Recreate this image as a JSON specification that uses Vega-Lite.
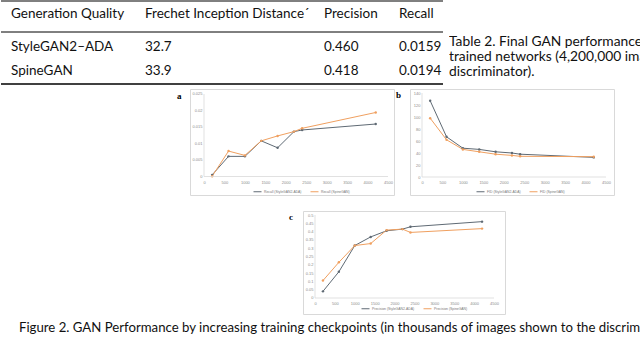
{
  "$schema": "https://vega.github.io/schema/vega-lite/v6.json",
  "usermeta": {"embedOptions": {"actions": false}},
  "padding": 0,
  "background": "white",
  "config": {"view": {"stroke": null}, "font": "Lato"},
  "datasets": {
    "table": [
      {"r": 0, "c": 0, "t": "Generation Quality"},
      {"r": 0, "c": 1, "t": "Frechet Inception Distance´"},
      {"r": 0, "c": 2, "t": "Precision"},
      {"r": 0, "c": 3, "t": "Recall"},
      {"r": 1, "c": 0, "t": "StyleGAN2–ADA"},
      {"r": 1, "c": 1, "t": "32.7"},
      {"r": 1, "c": 2, "t": "0.460"},
      {"r": 1, "c": 3, "t": "0.0159"},
      {"r": 2, "c": 0, "t": "SpineGAN"},
      {"r": 2, "c": 1, "t": "33.9"},
      {"r": 2, "c": 2, "t": "0.418"},
      {"r": 2, "c": 3, "t": "0.0194"}
    ],
    "tcap": [
      {"line": 0, "t": "Table 2. Final GAN performance of"},
      {"line": 1, "t": "trained networks (4,200,000 images shown to the"},
      {"line": 2, "t": "discriminator)."}
    ],
    "perf": [
      {"metric": "Recall", "model": "StyleGAN2-ADA", "kimg": 200, "value": 0.0005},
      {"metric": "Recall", "model": "StyleGAN2-ADA", "kimg": 600, "value": 0.0061},
      {"metric": "Recall", "model": "StyleGAN2-ADA", "kimg": 1000, "value": 0.0061},
      {"metric": "Recall", "model": "StyleGAN2-ADA", "kimg": 1400, "value": 0.0108},
      {"metric": "Recall", "model": "StyleGAN2-ADA", "kimg": 1800, "value": 0.0087},
      {"metric": "Recall", "model": "StyleGAN2-ADA", "kimg": 2200, "value": 0.0136},
      {"metric": "Recall", "model": "StyleGAN2-ADA", "kimg": 2400, "value": 0.0141},
      {"metric": "Recall", "model": "StyleGAN2-ADA", "kimg": 4200, "value": 0.0159},
      {"metric": "Recall", "model": "SpineGAN", "kimg": 200, "value": 0.0001},
      {"metric": "Recall", "model": "SpineGAN", "kimg": 600, "value": 0.0077},
      {"metric": "Recall", "model": "SpineGAN", "kimg": 1000, "value": 0.0064},
      {"metric": "Recall", "model": "SpineGAN", "kimg": 1400, "value": 0.0108},
      {"metric": "Recall", "model": "SpineGAN", "kimg": 1800, "value": 0.0123},
      {"metric": "Recall", "model": "SpineGAN", "kimg": 2200, "value": 0.0136},
      {"metric": "Recall", "model": "SpineGAN", "kimg": 2400, "value": 0.0146},
      {"metric": "Recall", "model": "SpineGAN", "kimg": 4200, "value": 0.0194},
      {"metric": "FID", "model": "StyleGAN2-ADA", "kimg": 200, "value": 127},
      {"metric": "FID", "model": "StyleGAN2-ADA", "kimg": 600, "value": 67},
      {"metric": "FID", "model": "StyleGAN2-ADA", "kimg": 1000, "value": 48},
      {"metric": "FID", "model": "StyleGAN2-ADA", "kimg": 1400, "value": 46},
      {"metric": "FID", "model": "StyleGAN2-ADA", "kimg": 1800, "value": 42},
      {"metric": "FID", "model": "StyleGAN2-ADA", "kimg": 2200, "value": 40},
      {"metric": "FID", "model": "StyleGAN2-ADA", "kimg": 2400, "value": 38},
      {"metric": "FID", "model": "StyleGAN2-ADA", "kimg": 4200, "value": 32.7},
      {"metric": "FID", "model": "SpineGAN", "kimg": 200, "value": 98},
      {"metric": "FID", "model": "SpineGAN", "kimg": 600, "value": 62},
      {"metric": "FID", "model": "SpineGAN", "kimg": 1000, "value": 46},
      {"metric": "FID", "model": "SpineGAN", "kimg": 1400, "value": 42},
      {"metric": "FID", "model": "SpineGAN", "kimg": 1800, "value": 38},
      {"metric": "FID", "model": "SpineGAN", "kimg": 2200, "value": 36},
      {"metric": "FID", "model": "SpineGAN", "kimg": 2400, "value": 34.5},
      {"metric": "FID", "model": "SpineGAN", "kimg": 4200, "value": 33.9},
      {"metric": "Precision", "model": "StyleGAN2-ADA", "kimg": 200, "value": 0.04},
      {"metric": "Precision", "model": "StyleGAN2-ADA", "kimg": 600, "value": 0.158},
      {"metric": "Precision", "model": "StyleGAN2-ADA", "kimg": 1000, "value": 0.316},
      {"metric": "Precision", "model": "StyleGAN2-ADA", "kimg": 1400, "value": 0.368},
      {"metric": "Precision", "model": "StyleGAN2-ADA", "kimg": 1800, "value": 0.405},
      {"metric": "Precision", "model": "StyleGAN2-ADA", "kimg": 2200, "value": 0.415},
      {"metric": "Precision", "model": "StyleGAN2-ADA", "kimg": 2400, "value": 0.429},
      {"metric": "Precision", "model": "StyleGAN2-ADA", "kimg": 4200, "value": 0.46},
      {"metric": "Precision", "model": "SpineGAN", "kimg": 200, "value": 0.105},
      {"metric": "Precision", "model": "SpineGAN", "kimg": 600, "value": 0.215},
      {"metric": "Precision", "model": "SpineGAN", "kimg": 1000, "value": 0.316},
      {"metric": "Precision", "model": "SpineGAN", "kimg": 1400, "value": 0.328},
      {"metric": "Precision", "model": "SpineGAN", "kimg": 1800, "value": 0.409},
      {"metric": "Precision", "model": "SpineGAN", "kimg": 2200, "value": 0.415},
      {"metric": "Precision", "model": "SpineGAN", "kimg": 2400, "value": 0.395},
      {"metric": "Precision", "model": "SpineGAN", "kimg": 4200, "value": 0.418}
    ]
  },
  "spacing": 0,
  "resolve": {"scale": {"color": "independent"}, "legend": {"color": "independent"}},
  "vconcat": [
    {
      "hconcat": [
        {
          "width": 442, "height": 87.5,
          "layer": [
            {
              "data": {"name": "table"},
              "mark": {"type": "text", "align": "left", "baseline": "middle", "font": "Lato", "fontSize": 13.5, "color": "#111"},
              "encoding": {
                "x": {"field": "c", "type": "quantitative", "scale": {"domain": [0, 1, 2, 3], "range": [10, 144, 323, 398], "nice": false, "zero": false}, "axis": null},
                "y": {"field": "r", "type": "quantitative", "scale": {"domain": [-0.5, 0, 0.5, 1, 2, 2.5], "range": [1, 14, 32, 47, 71, 84], "nice": false, "zero": false}, "axis": null},
                "text": {"field": "t"}
              }
            },
            {"data": {"values": [{}]}, "mark": {"type": "rule", "color": "#000", "strokeWidth": 1}, "encoding": {"y": {"datum": -0.5, "type": "quantitative"}}},
            {"data": {"values": [{}]}, "mark": {"type": "rule", "color": "#000", "strokeWidth": 1}, "encoding": {"y": {"datum": 0.5, "type": "quantitative"}}},
            {"data": {"values": [{}]}, "mark": {"type": "rule", "color": "#000", "strokeWidth": 1.6}, "encoding": {"y": {"datum": 2.5, "type": "quantitative"}}}
          ]
        },
        {
          "width": 192, "height": 87.5,
          "data": {"name": "tcap"},
          "mark": {"type": "text", "align": "left", "baseline": "middle", "font": "Lato", "fontSize": 13.8, "color": "#111", "clip": true},
          "encoding": {
            "x": {"datum": 0, "type": "quantitative", "scale": {"domain": [0, 1], "nice": false}, "axis": null},
            "y": {"field": "line", "type": "quantitative", "scale": {"domain": [0, 2], "range": [42, 72], "nice": false, "zero": false}, "axis": null},
            "text": {"field": "t"}
          }
        }
      ],
      "spacing": 6,
      "bounds": "flush"
    },
    {
      "hconcat": [
        {"width": 173, "height": 106, "data": {"values": [{}]}, "mark": {"type": "point", "opacity": 0}},
        {
          "width": 204, "height": 106,
          "view": {"stroke": "#d9d9d9", "strokeWidth": 1},
          "title": {"text": "a", "orient": "left", "anchor": "end", "angle": 0, "align": "right", "baseline": "top", "font": "Liberation Serif", "fontSize": 9, "fontWeight": "bold", "color": "#000", "offset": 4, "dy": 3},
          "layer": [
            {
              "data": {"name": "perf"},
              "transform": [{"filter": "datum.metric === 'Recall'"}],
              "mark": {"type": "line", "strokeWidth": 1, "point": {"filled": true, "size": 6}},
              "encoding": {
                "x": {"field": "kimg", "type": "quantitative", "scale": {"domain": [-342.4, 4646.7], "nice": false, "zero": false},
                  "axis": {"orient": "bottom", "offset": -15, "values": [0, 500, 1000, 1500, 2000, 2500, 3000, 3500, 4000, 4500], "tickCount": 10, "labelExpr": "datum.value < 0 || datum.value > 4500 ? '' : '' + datum.value", "domain": false, "ticks": false, "grid": false, "labelPadding": 0, "labelBaseline": "top", "labelFontSize": 4, "labelColor": "#8c8c8c", "labelFont": "Liberation Sans", "labelOverlap": false, "labelFlush": false, "labelBound": false, "title": null}},
                "y": {"field": "value", "type": "quantitative", "scale": {"domain": [-0.005606, 0.026515], "nice": false, "zero": false},
                  "axis": {"orient": "left", "offset": -14, "values": [0, 0.005, 0.01, 0.015, 0.02, 0.025], "tickCount": 6, "labelExpr": "datum.value < 0 ? '' : '' + datum.value", "domain": false, "ticks": false, "grid": false, "labelPadding": 2, "labelFontSize": 4, "labelColor": "#8c8c8c", "labelFont": "Liberation Sans", "labelOverlap": false, "labelFlush": false, "labelBound": false, "title": null}},
                "color": {"field": "model", "type": "nominal", "scale": {"domain": ["StyleGAN2-ADA", "SpineGAN"], "range": ["#5f6a74", "#f0a060"]},
                  "legend": {"orient": "none", "legendX": 63, "legendY": 98, "direction": "horizontal", "title": null, "labelExpr": "'Recall (' + datum.label + ')'", "labelFontSize": 3.4, "labelFont": "Liberation Sans", "labelColor": "#777", "symbolType": "stroke", "symbolSize": 64, "symbolStrokeWidth": 1, "labelOffset": 2, "columnPadding": 6, "padding": 0, "rowPadding": 0}}
              }
            },
            {"data": {"values": [{}]}, "mark": {"type": "rule", "color": "#d9d9d9", "strokeWidth": 0.8}, "encoding": {"x": {"datum": 0, "type": "quantitative"}, "y": {"datum": 0, "type": "quantitative"}, "y2": {"datum": 0.025}}},
            {"data": {"values": [{}]}, "mark": {"type": "rule", "color": "#d9d9d9", "strokeWidth": 0.8}, "encoding": {"y": {"datum": 0, "type": "quantitative"}, "x": {"datum": 0, "type": "quantitative"}, "x2": {"datum": 4500}}}
          ]
        },
        {
          "width": 204, "height": 106,
          "view": {"stroke": "#d9d9d9", "strokeWidth": 1},
          "title": {"text": "b", "orient": "left", "anchor": "end", "angle": 0, "align": "right", "baseline": "top", "font": "Liberation Serif", "fontSize": 9, "fontWeight": "bold", "color": "#000", "offset": 4, "dy": 2},
          "layer": [
            {
              "data": {"name": "perf"},
              "transform": [{"filter": "datum.metric === 'FID'"}],
              "mark": {"type": "line", "strokeWidth": 1, "point": {"filled": true, "size": 6}},
              "encoding": {
                "x": {"field": "kimg", "type": "quantitative", "scale": {"domain": [-293.5, 4695.7], "nice": false, "zero": false},
                  "axis": {"orient": "bottom", "offset": -15, "values": [0, 500, 1000, 1500, 2000, 2500, 3000, 3500, 4000, 4500], "tickCount": 10, "labelExpr": "datum.value < 0 || datum.value > 4500 ? '' : '' + datum.value", "domain": false, "ticks": false, "grid": false, "labelPadding": 0, "labelBaseline": "top", "labelFontSize": 4, "labelColor": "#8c8c8c", "labelFont": "Liberation Sans", "labelOverlap": false, "labelFlush": false, "labelBound": false, "title": null}},
                "y": {"field": "value", "type": "quantitative", "scale": {"domain": [-30, 146.67], "nice": false, "zero": false},
                  "axis": {"orient": "left", "offset": -12, "values": [0, 20, 40, 60, 80, 100, 120, 140], "tickCount": 8, "labelExpr": "datum.value < 0 ? '' : '' + datum.value", "domain": false, "ticks": false, "grid": false, "labelPadding": 2, "labelFontSize": 4, "labelColor": "#8c8c8c", "labelFont": "Liberation Sans", "labelOverlap": false, "labelFlush": false, "labelBound": false, "title": null}},
                "color": {"field": "model", "type": "nominal", "scale": {"domain": ["StyleGAN2-ADA", "SpineGAN"], "range": ["#5f6a74", "#f0a060"]},
                  "legend": {"orient": "none", "legendX": 66, "legendY": 98, "direction": "horizontal", "title": null, "labelExpr": "'FID (' + datum.label + ')'", "labelFontSize": 3.4, "labelFont": "Liberation Sans", "labelColor": "#777", "symbolType": "stroke", "symbolSize": 64, "symbolStrokeWidth": 1, "labelOffset": 2, "columnPadding": 6, "padding": 0, "rowPadding": 0}}
              }
            },
            {"data": {"values": [{}]}, "mark": {"type": "rule", "color": "#d9d9d9", "strokeWidth": 0.8}, "encoding": {"x": {"datum": 0, "type": "quantitative"}, "y": {"datum": 0, "type": "quantitative"}, "y2": {"datum": 140}}},
            {"data": {"values": [{}]}, "mark": {"type": "rule", "color": "#d9d9d9", "strokeWidth": 0.8}, "encoding": {"y": {"datum": 0, "type": "quantitative"}, "x": {"datum": 0, "type": "quantitative"}, "x2": {"datum": 4500}}}
          ]
        }
      ],
      "spacing": 16,
      "bounds": "flush",
      "resolve": {"scale": {"color": "independent"}, "legend": {"color": "independent"}}
    },
    {
      "hconcat": [
        {"width": 640, "height": 13.5, "data": {"values": [{}]}, "mark": {"type": "point", "opacity": 0}}
      ],
      "bounds": "flush"
    },
    {
      "hconcat": [
        {"width": 286, "height": 103, "data": {"values": [{}]}, "mark": {"type": "point", "opacity": 0}},
        {
          "width": 202, "height": 103,
          "view": {"stroke": "#d9d9d9", "strokeWidth": 1},
          "title": {"text": "c", "orient": "left", "anchor": "end", "angle": 0, "align": "right", "baseline": "top", "font": "Liberation Serif", "fontSize": 9, "fontWeight": "bold", "color": "#000", "offset": 6, "dy": 2},
          "layer": [
            {
              "data": {"name": "perf"},
              "transform": [{"filter": "datum.metric === 'Precision'"}],
              "mark": {"type": "line", "strokeWidth": 1, "point": {"filled": true, "size": 6}},
              "encoding": {
                "x": {"field": "kimg", "type": "quantitative", "scale": {"domain": [-301.7, 4776.5], "nice": false, "zero": false},
                  "axis": {"orient": "bottom", "offset": -13, "values": [0, 500, 1000, 1500, 2000, 2500, 3000, 3500, 4000, 4500], "tickCount": 10, "labelExpr": "datum.value < 0 || datum.value > 4500 ? '' : '' + datum.value", "domain": false, "ticks": false, "grid": false, "labelPadding": 0, "labelBaseline": "top", "labelFontSize": 4, "labelColor": "#8c8c8c", "labelFont": "Liberation Sans", "labelOverlap": false, "labelFlush": false, "labelBound": false, "title": null}},
                "y": {"field": "value", "type": "quantitative", "scale": {"domain": [-0.0964, 0.5241], "nice": false, "zero": false},
                  "axis": {"orient": "left", "offset": -12, "values": [0, 0.05, 0.1, 0.15, 0.2, 0.25, 0.3, 0.35, 0.4, 0.45, 0.5], "tickCount": 11, "labelExpr": "datum.value < 0 ? '' : '' + datum.value", "domain": false, "ticks": false, "grid": false, "labelPadding": 2, "labelFontSize": 4, "labelColor": "#8c8c8c", "labelFont": "Liberation Sans", "labelOverlap": false, "labelFlush": false, "labelBound": false, "title": null}},
                "color": {"field": "model", "type": "nominal", "scale": {"domain": ["StyleGAN2-ADA", "SpineGAN"], "range": ["#5f6a74", "#f0a060"]},
                  "legend": {"orient": "none", "legendX": 58, "legendY": 93, "direction": "horizontal", "title": null, "labelExpr": "'Precision (' + datum.label + ')'", "labelFontSize": 3.4, "labelFont": "Liberation Sans", "labelColor": "#777", "symbolType": "stroke", "symbolSize": 64, "symbolStrokeWidth": 1, "labelOffset": 2, "columnPadding": 6, "padding": 0, "rowPadding": 0}}
              }
            },
            {"data": {"values": [{}]}, "mark": {"type": "rule", "color": "#d9d9d9", "strokeWidth": 0.8}, "encoding": {"x": {"datum": 0, "type": "quantitative"}, "y": {"datum": 0, "type": "quantitative"}, "y2": {"datum": 0.5}}},
            {"data": {"values": [{}]}, "mark": {"type": "rule", "color": "#d9d9d9", "strokeWidth": 0.8}, "encoding": {"y": {"datum": 0, "type": "quantitative"}, "x": {"datum": 0, "type": "quantitative"}, "x2": {"datum": 4500}}}
          ]
        }
      ],
      "spacing": 16,
      "bounds": "flush",
      "resolve": {"scale": {"color": "independent"}, "legend": {"color": "independent"}}
    },
    {
      "hconcat": [
        {"width": 18, "height": 24, "data": {"values": [{}]}, "mark": {"type": "point", "opacity": 0}},
        {
          "width": 622, "height": 24,
          "data": {"values": [{"caption": "Figure 2. GAN Performance by increasing training checkpoints (in thousands of images shown to the discriminator)."}]},
          "mark": {"type": "text", "align": "left", "baseline": "middle", "font": "Lato", "fontSize": 13.2, "color": "#111", "clip": true, "dy": 1},
          "encoding": {
            "x": {"datum": 0, "type": "quantitative", "scale": {"domain": [0, 1], "nice": false}, "axis": null},
            "text": {"field": "caption"}
          }
        }
      ],
      "spacing": 0,
      "bounds": "flush"
    }
  ]
}
